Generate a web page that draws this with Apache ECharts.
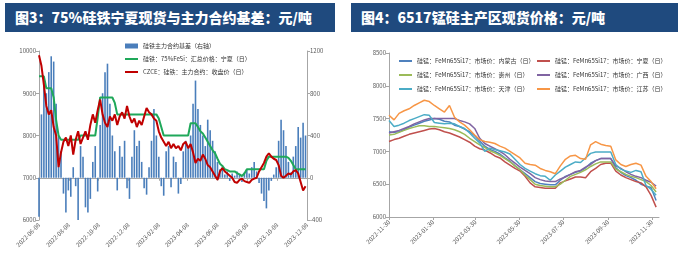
<!DOCTYPE html>
<html lang="zh">
<head>
<meta charset="UTF-8">
<title>硅铁 锰硅</title>
<style>
  body{ margin:0; background:#fff; width:684px; height:259px; overflow:hidden; position:relative;
        font-family:"Noto Sans CJK SC", sans-serif; }
  .bar{ position:absolute; top:3px; height:29px; background:#1f4a7e; color:#fff;
        font-weight:900; font-size:14px; line-height:29px; white-space:nowrap; }
  #t3{ left:5px; width:330px; padding-left:10px; box-sizing:border-box; }
  #t4{ left:351px; width:327px; padding-left:10px; box-sizing:border-box; }
  .chart{ position:absolute; top:32px; width:342px; height:227px; }
  #left{ left:0; }
  #right{ left:342px; }
</style>
</head>
<body>
<div class="bar" id="t3">图3：75%硅铁宁夏现货与主力合约基差：元/吨</div>
<div class="bar" id="t4">图4：6517锰硅主产区现货价格：元/吨</div>
<div class="chart" id="left"></div>
<div class="chart" id="right"></div>

<script src="https://cdn.jsdelivr.net/npm/echarts@6/dist/echarts.min.js"></script>
<script>
// ---------- 图3 数据（每5天一个点，起点 2022-06-08）----------
const leftStart = '2022-06-08'
const leftStep = 5
const leftTicks = ['2022-06-08','2022-08-08','2022-10-08','2022-12-08','2023-02-08',
                   '2023-04-08','2023-06-08','2023-08-08','2023-10-08','2023-12-08']
const basis = [-370,600,900,800,1000,1150,1100,700,400,250,
  -150,-330,-120,-180,100,-80,-400,300,200,-280,
  -330,-200,150,300,-130,500,800,1000,1080,700,
  400,250,-120,300,200,350,-100,-200,200,450,
  300,350,150,-100,-160,100,350,650,400,200,
  -80,-170,250,300,-90,200,150,-150,-60,250,
  350,300,400,700,920,650,500,400,300,550,
  450,350,250,150,80,100,30,60,-30,40,
  20,60,30,-40,50,80,40,100,150,60,
  -50,-150,-220,-290,-120,-30,30,100,350,550,
  450,300,150,50,200,300,480,380,520,400]
const spotNX = [9400,9400,9400,9120,9120,9120,8900,8370,8000,7900,
  7900,7900,7900,7900,7900,7900,7900,8000,8000,8000,
  8000,8000,8000,8000,8420,8900,8900,8900,8900,8900,
  8900,8770,8500,8500,8500,8500,8500,8500,8500,8500,
  8500,8500,8500,8500,8500,8500,8500,8500,8500,8400,
  8200,8000,8000,8000,8000,8000,8000,8000,8000,8000,
  8000,8000,8290,8290,8290,8200,8100,8050,7950,7850,
  7750,7650,7580,7450,7330,7280,7200,7180,7150,7150,
  7150,7110,7080,7040,7100,7200,7200,7200,7200,7200,
  7200,7200,7200,7400,7500,7500,7500,7500,7500,7500,
  7500,7500,7470,7400,7300,7200,7200,7200,7200,7200]
const futClose = [9900,9650,9200,8700,8500,8600,8200,8000,7250,7600,
  7850,7950,7750,8000,7550,7900,8100,7800,7950,8100,
  7900,8250,8500,8300,8600,8850,8500,8300,8200,8450,
  8350,8500,8250,8450,8550,8400,8700,8450,8300,8400,
  8200,8350,8250,8450,8650,8550,8500,8400,8350,8100,
  7950,7850,7750,7850,7700,7800,7700,7750,7650,7800,
  7850,7700,7800,7600,7350,7450,7400,7550,7450,7300,
  7250,7150,7050,6950,7150,7230,7150,7100,7050,7000,
  6900,6880,6950,6980,6920,6900,6880,6950,6980,7000,
  7150,7250,7350,7500,7580,7500,7450,7420,7300,7050,
  7000,7050,7100,7080,7150,7180,7100,6900,6700,6800]

// ---------- 图4 数据（每7天一个点，起点 2022-11-30）----------
const rightStart = '2022-11-30'
const rightStep = 7
const rightTicks = ['2022-11-30','2023-01-30','2023-03-30','2023-05-30','2023-07-30','2023-09-30','2023-11-30']
const nmg = [7300,7290,7300,7330,7370,7400,7430,7460,7480,7500,
  7490,7460,7450,7400,7380,7340,7300,7240,7160,7080,
  7030,7000,6960,6900,6850,6780,6720,6660,6600,6540,
  6510,6500,6490,6490,6560,6620,6650,6680,6700,6750,
  6820,6860,6890,6890,6890,6750,6680,6630,6600,6560,
  6500,6470,6450,6250]
const nx = [7150,7180,7200,7230,7260,7280,7300,7320,7340,7350,
  7330,7300,7280,7250,7220,7180,7140,7080,7040,7020,
  6980,6930,6900,6840,6790,6740,6700,6620,6520,6460,
  6450,6440,6440,6440,6520,6550,6580,6610,6610,6600,
  6690,6740,6800,6820,6820,6700,6640,6600,6570,6540,
  6520,6460,6330,6150]
const gz = [7250,7260,7290,7320,7350,7370,7390,7390,7380,7380,
  7370,7360,7350,7330,7300,7260,7200,7150,7100,7060,
  7010,6980,6940,6890,6840,6780,6720,6640,6570,6500,
  6480,6470,6460,6460,6500,6560,6620,6650,6680,6720,
  6770,6810,6840,6840,6840,6730,6690,6650,6620,6600,
  6570,6540,6480,6380]
const gx = [7280,7300,7320,7350,7380,7420,7450,7480,7500,7500,
  7500,7500,7500,7500,7470,7450,7420,7350,7200,7120,
  7080,7040,7000,6950,6880,6820,6760,6710,6660,6600,
  6570,6550,6540,6540,6580,6610,6650,6690,6710,6760,
  6800,6860,6890,6890,6890,6780,6740,6690,6650,6620,
  6600,6560,6530,6470]
const tj = [7470,7380,7400,7430,7470,7500,7530,7560,7550,7440,
  7430,7420,7430,7420,7380,7350,7280,7200,7130,7000,
  7050,7030,7010,6990,6960,6880,6800,6740,6700,6660,
  6630,6620,6560,6640,6700,6760,6800,6840,6830,6900,
  6970,6990,6990,6990,6990,6800,6730,6700,6680,6710,
  6690,6480,6420,6330]
const js = [7550,7480,7580,7620,7650,7700,7740,7780,7760,7700,
  7650,7600,7700,7520,7450,7400,7330,7250,7180,7150,
  7140,7120,7080,7050,7000,6950,6900,6820,6800,6790,
  6740,6710,6690,6660,6780,6880,6930,6940,6890,6880,
  7100,7150,7110,7090,7080,6870,6800,6770,6800,6820,
  6790,6620,6540,6430]

// ---------- 工具 ----------
const DAY = 86400000
function ts(s){ let p = s.split('-'); return new Date(+p[0], +p[1]-1, +p[2]).getTime() }
function pad(n){ return n < 10 ? '0' + n : '' + n }
function fmt(v){ let d = new Date(v); return d.getFullYear() + '-' + pad(d.getMonth()+1) + '-' + pad(d.getDate()) }
function pairs(start, step, arr){ return arr.map((v, i) => [ts(start) + i*step*DAY, v]) }

const fontCJK = 'Noto Sans CJK SC'
const axisGray = '#a6a6a6'
const labelStyle = { fontSize: 6, color: '#595959', fontFamily: fontCJK }
const legendText = { fontSize: 6, color: '#333', fontFamily: fontCJK, lineHeight: 8 }

// 横轴用数值轴（时间戳），刻度位置取自刻度标签
function xAxisOf(min, max, ticks){
  let vals = ticks.map(ts)
  return {
    type: 'value', min: ts(min), max: max, scale: true,
    axisLine: { lineStyle: { color: axisGray } },
    axisTick: { show: true, customValues: vals, length: 3, lineStyle: { color: axisGray } },
    axisLabel: Object.assign({ customValues: vals, rotate: 45, margin: 4, formatter: fmt,
                               showMinLabel: true, showMaxLabel: true, hideOverlap: false }, labelStyle),
    splitLine: { show: false }
  }
}
function yAxisOf(min, max, step, pos){
  return {
    type: 'value', min: min, max: max, interval: step, position: pos,
    axisLine: { show: true, lineStyle: { color: axisGray } },
    axisTick: { show: true, length: 3, lineStyle: { color: axisGray } },
    axisLabel: Object.assign({ margin: 3, formatter: v => String(v) }, labelStyle),
    splitLine: { show: false }
  }
}

// ---------- 图3 ----------
const barName = '硅铁主力合约基差（右轴）'
const spotName = '硅铁：75%FeSi：汇总价格：宁夏（日）'
const futName = 'CZCE：硅铁：主力合约：收盘价（日）'
let chartL = echarts.init(document.getElementById('left'))
chartL.setOption({
  animation: false,
  grid: { left: 39, right: 35, top: 19, bottom: 39 },
  legend: [
    { orient: 'vertical', left: 120, top: 5, itemWidth: 13, itemHeight: 5,
      icon: 'rect', textStyle: legendText, data: [barName] },
    { orient: 'vertical', left: 120, top: 18, itemWidth: 13, itemHeight: 2, itemGap: 5,
      icon: 'rect', textStyle: legendText, data: [spotName, futName] }
  ],
  xAxis: xAxisOf(leftStart, ts('2023-12-08'), leftTicks),
  yAxis: [ yAxisOf(6000, 10000, 1000, 'left'), yAxisOf(-400, 1200, 400, 'right') ],
  series: [
    { name: barName, type: 'bar', yAxisIndex: 1, barWidth: 1.6,
      itemStyle: { color: '#4a7ebb' }, data: pairs(leftStart, leftStep, basis) },
    { name: spotName, type: 'line', symbol: 'none',
      lineStyle: { color: '#1fa85a', width: 2 }, itemStyle: { color: '#1fa85a' },
      data: pairs(leftStart, leftStep, spotNX) },
    { name: futName, type: 'line', symbol: 'none',
      lineStyle: { color: '#c00000', width: 2 }, itemStyle: { color: '#c00000' },
      data: pairs(leftStart, leftStep, futClose) }
  ]
})

// ---------- 图4 ----------
const names = ['内蒙古', '宁夏', '贵州', '广西', '天津', '江苏']
const colors = ['#4f81bd', '#c0504d', '#9bbb59', '#8064a2', '#4bacc6', '#f79646']
const values = [nmg, nx, gz, gx, tj, js]
const fullName = n => '硅锰：FeMn65Si17：市场价：' + n + '（日）'

let chartR = echarts.init(document.getElementById('right'))
chartR.setOption({
  animation: false,
  grid: { left: 47, right: 25, top: 21, bottom: 42 },
  legend: [
    { orient: 'vertical', left: 52, top: 20, itemWidth: 13, itemHeight: 2, itemGap: 6, icon: 'rect',
      textStyle: legendText, data: [fullName('内蒙古'), fullName('贵州'), fullName('天津')] },
    { orient: 'vertical', left: 190, top: 20, itemWidth: 13, itemHeight: 2, itemGap: 6, icon: 'rect',
      textStyle: legendText, data: [fullName('宁夏'), fullName('广西'), fullName('江苏')] }
  ],
  xAxis: xAxisOf(rightStart, ts('2023-12-10'), rightTicks),
  yAxis: yAxisOf(6000, 8500, 500, 'left'),
  series: names.map((n, k) => ({
    name: fullName(n), type: 'line', symbol: 'none',
    lineStyle: { color: colors[k], width: 1.5 }, itemStyle: { color: colors[k] },
    data: pairs(rightStart, rightStep, values[k])
  }))
})
</script>
</body>
</html>
